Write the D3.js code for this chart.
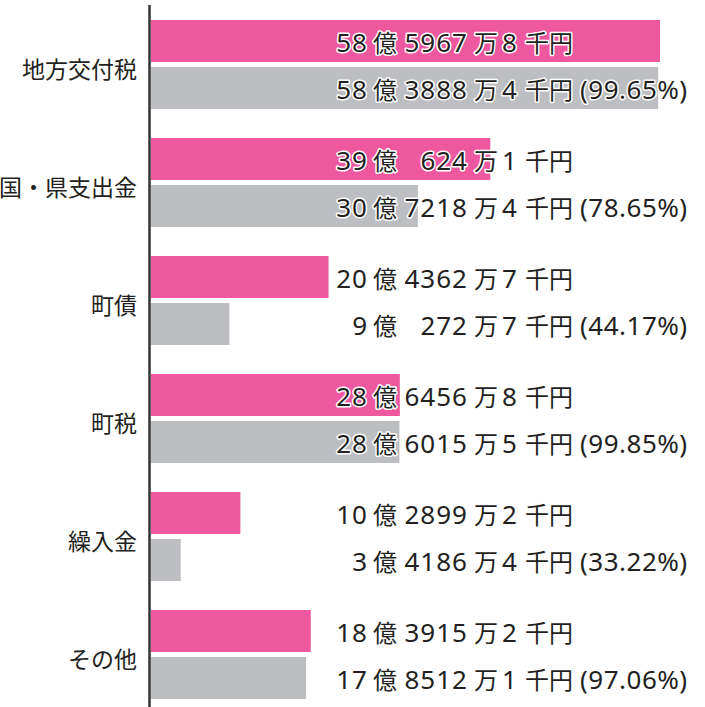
<!DOCTYPE html>
<html>
<head>
<meta charset="utf-8">
<script src="https://cdn.jsdelivr.net/npm/d3@7"></script>
<style>
  body { margin: 0; background: #fff; }
  svg text { font-family: "Noto Sans", "Noto Sans CJK JP", sans-serif; fill: #231f20; }
</style>
</head>
<body>
<script>
// amounts in 千円
const categories = ["地方交付税", "国・県支出金", "町債", "町税", "繰入金", "その他"];
const budget = [5859678, 3906241, 2043627, 2864568, 1028992, 1839152];
const actual = [5838884, 3072184, 902727, 2860155, 341864, 1785121];

const width = 705;
const height = 707;
const axisX = 149.5;

const x = d3.scaleLinear()
    .domain([0, 6000000])
    .range([151, 672.2]);

const y = d3.scaleBand()
    .domain(categories)
    .range([5, 714])
    .paddingInner(29 / 118)
    .paddingOuter(15 / 118);

const ySub = d3.scaleBand()
    .domain(["budget", "actual"])
    .range([0, y.bandwidth()])
    .paddingInner(5 / 47);

const colors = { budget: "#ee589f", actual: "#bdbec1" };

const rows = [];
categories.forEach((c, i) => {
  rows.push({ cat: c, kind: "budget", value: budget[i] });
  rows.push({ cat: c, kind: "actual", value: actual[i], pct: actual[i] / budget[i] * 100 });
});

const svg = d3.select("body").append("svg")
    .attr("width", width)
    .attr("height", height)
    .attr("viewBox", [0, 0, width, height]);

// bars
svg.append("g")
  .selectAll("rect")
  .data(rows)
  .join("rect")
    .attr("x", x(0))
    .attr("y", d => y(d.cat) + ySub(d.kind))
    .attr("width", d => x(d.value) - x(0))
    .attr("height", ySub.bandwidth())
    .attr("fill", d => colors[d.kind]);

// axis line
svg.append("line")
    .attr("x1", axisX).attr("x2", axisX)
    .attr("y1", 5).attr("y2", height)
    .attr("stroke", "#333")
    .attr("stroke-width", 2.5);

// category labels
svg.append("g")
  .selectAll("text")
  .data(categories)
  .join("text")
    .attr("x", 137)
    .attr("y", d => y(d) + y.bandwidth() / 2 + 4)
    .attr("text-anchor", "end")
    .attr("dominant-baseline", "central")
    .style("font-size", "23px")
    .text(d => d);

// value labels, split into columns so 億 / 万 / 千円 line up
const label = svg.append("g")
  .selectAll("g")
  .data(rows)
  .join("g")
    .attr("transform", d => `translate(0,${y(d.cat) + ySub(d.kind) + ySub.bandwidth() / 2 + 1})`);

function part(sel, xPos, anchor, size, spacing, fn) {
  sel.append("text")
      .attr("x", xPos)
      .attr("text-anchor", anchor)
      .attr("dominant-baseline", "central")
      .style("font-size", size + "px")
      .style("letter-spacing", spacing + "px")
      .attr("stroke", "#fff")
      .attr("stroke-width", 3)
      .attr("stroke-linejoin", "round")
      .attr("paint-order", "stroke")
      .text(fn);
}

part(label, 368, "end", 26, 1, d => Math.floor(d.value / 100000));
part(label, 373, "start", 24, 0, () => "億");
part(label, 468, "end", 26, 1, d => Math.floor(d.value / 10) % 10000);
part(label, 474, "start", 24, 0, () => "万");
part(label, 509.5, "middle", 26, 0, d => d.value % 10);
part(label, 525, "start", 24, 0, () => "千円");
part(label.filter(d => d.kind === "actual"), 580, "start", 26, 0.5, d => `(${d.pct.toFixed(2)}%)`);
</script>
</body>
</html>
